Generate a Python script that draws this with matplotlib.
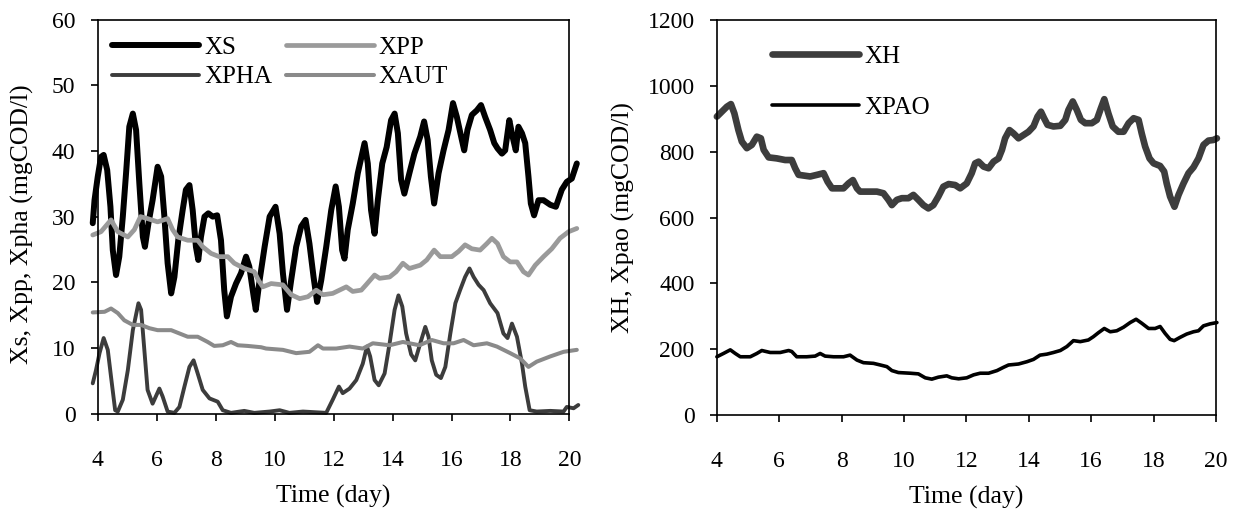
import matplotlib
matplotlib.use("Agg")
import matplotlib.pyplot as plt

plt.rcParams['font.family'] = ['Liberation Serif', 'DejaVu Serif']

# ---------------- Left panel data ----------------
xs_day = [3.83, 3.89, 4.0, 4.11, 4.2, 4.32, 4.43, 4.51, 4.62, 4.73, 4.85, 4.96, 5.07, 5.19, 5.3,
          5.41, 5.53, 5.6, 5.72, 5.86, 6.03, 6.15, 6.26, 6.37, 6.49, 6.6, 6.73, 6.88, 6.99, 7.11,
          7.22, 7.33, 7.41, 7.5, 7.62, 7.75, 7.9, 8.05, 8.18, 8.29, 8.38, 8.52, 8.69, 8.86, 9.03,
          9.14, 9.29, 9.36, 9.49, 9.66, 9.83, 10.03, 10.17, 10.28, 10.42, 10.56, 10.73, 10.9,
          11.05, 11.18, 11.32, 11.44, 11.58, 11.75, 11.92, 12.07, 12.18, 12.29, 12.37, 12.48,
          12.65, 12.82, 13.05, 13.16, 13.27, 13.39, 13.5, 13.65, 13.8, 13.95, 14.07, 14.18,
          14.29, 14.4, 14.57, 14.74, 14.94, 15.07, 15.19, 15.3, 15.41, 15.56, 15.73, 15.9,
          16.05, 16.18, 16.35, 16.43, 16.54, 16.69, 16.86, 17.0, 17.14, 17.31, 17.45, 17.56,
          17.71, 17.82, 17.96, 18.07, 18.18, 18.27, 18.39, 18.5, 18.61, 18.69, 18.8, 18.95,
          19.12, 19.35, 19.54, 19.74, 19.91, 20.08, 20.25]
xs_val = [29.0, 32.5, 36.1, 39.1, 39.4, 37.1, 31.5, 24.9, 21.1, 23.9, 30.0, 36.6, 43.7, 45.7, 43.2,
          35.1, 26.9, 25.4, 29.0, 32.5, 37.6, 36.1, 30.0, 22.9, 18.3, 20.8, 26.4, 31.0, 34.1, 34.8,
          31.0, 25.4, 23.4, 26.9, 30.0, 30.5, 30.0, 30.2, 26.4, 18.8, 14.8, 17.8, 19.8, 21.4, 23.9,
          22.4, 17.8, 15.8, 20.3, 25.4, 30.0, 31.5, 27.4, 21.4, 15.8, 20.3, 25.4, 28.5,
          29.5, 25.9, 20.8, 17.0, 20.3, 25.4, 31.0, 34.6, 31.5, 24.9, 23.6, 28.0,
          32.0, 36.6, 41.2, 38.1, 31.0, 27.4, 32.5, 38.1, 40.6, 44.7, 45.7, 42.7,
          35.6, 33.5, 36.6, 39.6, 42.2, 44.5, 41.7, 36.1, 32.0, 36.6, 40.1, 43.2,
          47.3, 45.2, 41.7, 40.1, 43.2, 45.5, 46.2, 47.0, 45.2, 43.2, 41.2, 40.4,
          39.6, 40.1, 44.7, 42.2, 40.1, 43.7, 42.7, 41.2, 36.1, 32.0, 30.2, 32.5,
          32.5, 31.8, 31.5, 34.1, 35.3, 35.8, 38.1]

xpp_day = [3.83, 4.11, 4.45, 4.68, 5.02, 5.24, 5.45, 5.69, 6.03, 6.37, 6.54, 6.71, 7.05, 7.39,
           7.56, 7.84, 8.12, 8.41, 8.63, 8.97, 9.31, 9.45, 9.6, 9.88, 10.28, 10.56, 10.85,
           11.13, 11.41, 11.64, 11.97, 12.2, 12.43, 12.65, 12.94, 13.1, 13.39, 13.56, 13.9,
           14.12, 14.35, 14.57, 14.94, 15.16, 15.41, 15.62, 16.01, 16.24, 16.46, 16.69,
           16.97, 17.2, 17.37, 17.56, 17.76, 17.99, 18.22, 18.44, 18.61, 18.84, 19.12, 19.4,
           19.68, 19.97, 20.25]
xpp_val = [27.2, 27.7, 29.5, 27.7, 26.9, 28.0, 30.0, 29.7, 29.2, 29.7, 28.0, 26.9, 26.4, 26.4,
           25.4, 24.4, 23.9, 23.9, 22.9, 22.1, 21.6, 20.3, 19.3, 19.8, 19.6, 18.1, 17.5,
           17.8, 18.8, 18.1, 18.3, 18.8, 19.3, 18.6, 18.8, 19.6, 21.1, 20.6, 20.8,
           21.6, 22.9, 22.1, 22.6, 23.4, 24.9, 23.9, 23.9, 24.7, 25.7, 25.1,
           24.9, 25.9, 26.7, 25.9, 23.9, 23.1, 23.1, 21.6, 21.1, 22.6, 23.9, 25.1,
           26.7, 27.7, 28.2]

xpha_day = [3.83, 3.94, 4.06, 4.2, 4.34, 4.45, 4.59, 4.68, 4.85, 5.02, 5.19, 5.38, 5.47, 5.58,
            5.69, 5.86, 6.09, 6.2, 6.37, 6.6, 6.77, 6.94, 7.11, 7.25, 7.39, 7.56, 7.79, 8.07,
            8.24, 8.52, 8.97, 9.31, 9.83, 10.17, 10.5, 10.96, 11.75, 11.97, 12.18, 12.31,
            12.54, 12.77, 12.99, 13.13, 13.24, 13.39, 13.53, 13.73, 13.9, 14.07, 14.2, 14.33,
            14.46, 14.63, 14.77, 14.94, 15.11, 15.22, 15.33, 15.48, 15.64, 15.79, 15.96,
            16.13, 16.29, 16.46, 16.61, 16.75, 16.92, 17.09, 17.31, 17.56, 17.76, 17.9,
            18.05, 18.22, 18.39, 18.5, 18.65, 18.89, 19.35, 19.8, 19.91, 20.14, 20.3]
xpha_val = [4.6, 6.6, 9.2, 11.5, 9.7, 5.6, 0.5, 0.3, 2.1, 6.6, 12.7, 16.8, 15.8, 9.7,
            3.6, 1.5, 3.8, 2.6, 0.3, 0.1, 1.0, 4.1, 7.1, 8.1, 6.1, 3.6, 2.3, 1.8,
            0.5, 0.1, 0.4, 0.1, 0.3, 0.5, 0.1, 0.3, 0.1, 2.1, 4.1, 3.1,
            3.8, 5.1, 7.6, 10.2, 8.7, 5.1, 4.3, 6.1, 10.7, 15.8, 18.0, 16.3,
            12.2, 9.0, 8.1, 10.7, 13.2, 11.7, 8.1, 5.9, 5.4, 7.1, 12.2,
            16.8, 18.8, 20.8, 22.1, 20.8, 19.6, 18.8, 16.8, 15.3, 12.2, 11.5,
            13.7, 11.7, 7.6, 4.1, 0.5, 0.3, 0.4, 0.3, 1.0, 0.8, 1.3]

xaut_day = [3.83, 4.23, 4.45, 4.68, 4.9, 5.19, 5.47, 5.75, 6.03, 6.49, 6.77, 7.05, 7.39, 7.73,
            7.95, 8.24, 8.52, 8.75, 9.08, 9.54, 9.71, 10.28, 10.73, 11.18, 11.47, 11.64,
            12.09, 12.54, 12.99, 13.33, 13.9, 14.35, 14.91, 15.33, 15.73, 16.07, 16.41,
            16.75, 17.2, 17.54, 17.99, 18.33, 18.61, 18.89, 19.35, 19.8, 20.25]
xaut_val = [15.4, 15.5, 16.0, 15.3, 14.2, 13.5, 13.5, 13.0, 12.7, 12.7, 12.2, 11.7, 11.7, 10.9,
            10.3, 10.4, 10.9, 10.4, 10.3, 10.1, 9.9, 9.7, 9.2, 9.4, 10.4, 9.9,
            9.9, 10.2, 9.9, 10.7, 10.4, 10.9, 10.4, 11.2, 10.7, 10.7, 11.2,
            10.4, 10.7, 10.2, 9.2, 8.4, 7.1, 7.9, 8.7, 9.4, 9.7]

# ---------------- Right panel data ----------------
xh_day = [4.0, 4.16, 4.32, 4.45, 4.56, 4.69, 4.8, 4.96, 5.12, 5.28, 5.41, 5.5, 5.66, 5.92, 6.19,
          6.4, 6.51, 6.62, 6.99, 7.21, 7.42, 7.55, 7.69, 8.06, 8.22, 8.36, 8.49, 8.59, 8.91,
          9.13, 9.34, 9.5, 9.61, 9.77, 9.93, 10.14, 10.3, 10.46, 10.62, 10.78, 10.94, 11.1,
          11.26, 11.43, 11.64, 11.8, 12.01, 12.17, 12.28, 12.39, 12.55, 12.71, 12.87, 13.03,
          13.14, 13.24, 13.38, 13.51, 13.67, 13.83, 13.99, 14.15, 14.28, 14.39, 14.49, 14.6,
          14.79, 15.01, 15.17, 15.27, 15.41, 15.54, 15.67, 15.81, 16.02, 16.18, 16.31, 16.42,
          16.55, 16.69, 16.87, 17.04, 17.2, 17.36, 17.52, 17.62, 17.73, 17.87, 18.0, 18.21,
          18.34, 18.42, 18.53, 18.67, 18.8, 18.96, 19.12, 19.28, 19.44, 19.6, 19.76, 19.92,
          20.03]
xh_val = [907, 922, 937, 945, 917, 866, 831, 811, 821, 846, 841, 806, 783, 780, 775,
          775, 750, 730, 725, 730, 735, 709, 689, 689, 704, 714, 689, 679, 679,
          679, 674, 654, 638, 654, 659, 659, 669, 654, 638, 628, 638, 664,
          694, 702, 699, 689, 704, 735, 765, 770, 755, 750, 770, 780,
          806, 841, 866, 856, 841, 851, 861, 877, 907, 922, 902, 882,
          877, 879, 897, 927, 953, 927, 897, 887, 887, 897, 932, 960,
          917, 877, 861, 861, 887, 902, 897, 856, 816, 780, 765, 757,
          740, 704, 664, 633, 669, 704, 735, 753, 780, 821, 834, 836,
          841]

xpao_day = [4.0, 4.21, 4.43, 4.59, 4.75, 5.07, 5.28, 5.44, 5.71, 6.03, 6.3, 6.4, 6.56, 6.88,
            7.15, 7.31, 7.47, 7.74, 8.06, 8.27, 8.49, 8.7, 9.02, 9.24, 9.45, 9.61, 9.82,
            10.2, 10.46, 10.68, 10.89, 11.1, 11.37, 11.53, 11.75, 12.01, 12.23, 12.44,
            12.71, 12.98, 13.19, 13.35, 13.67, 13.94, 14.15, 14.36, 14.58, 14.79, 15.01,
            15.22, 15.43, 15.65, 15.91, 16.07, 16.23, 16.42, 16.61, 16.82, 17.04, 17.25,
            17.44, 17.62, 17.84, 18.05, 18.21, 18.37, 18.53, 18.66, 18.85, 19.06, 19.28,
            19.44, 19.6, 19.81, 20.03]
xpao_val = [177, 187, 198, 187, 177, 177, 187, 196, 190, 190, 196, 193, 177, 177,
            179, 187, 179, 177, 177, 182, 167, 159, 157, 152, 147, 135, 129,
            127, 125, 113, 109, 115, 119, 113, 110, 113, 122, 127,
            127, 135, 145, 152, 155, 162, 169, 182, 185, 190, 196,
            208, 226, 223, 228, 238, 250, 263, 253, 256, 267, 281,
            291, 279, 263, 263, 269, 248, 230, 226, 236, 246, 253,
            256, 271, 277, 281]

x_ticks = [4, 6, 8, 10, 12, 14, 16, 18, 20]
left_yticks = [0, 10, 20, 30, 40, 50, 60]
right_yticks = [0, 200, 400, 600, 800, 1000, 1200]

TICK_FS = 17
LABEL_FS = 18.5
LEG_FS = 18

fig = plt.figure(figsize=(12.39, 5.14), dpi=100)
ax1 = fig.add_axes([0.0789, 0.1955, 0.3807, 0.7661])
ax2 = fig.add_axes([0.5786, 0.1926, 0.4028, 0.7681])


def style(ax, yticks, ylim):
    ax.set_xlim(4, 20)
    ax.set_ylim(*ylim)
    ax.set_xticks(x_ticks)
    ax.set_yticks(yticks)
    for s in ax.spines.values():
        s.set_linewidth(1.2)
        s.set_color('black')
    ax.tick_params(axis='both', direction='out', length=5, width=1.2,
                   labelsize=TICK_FS, colors='black', top=False, right=False)
    ax.tick_params(axis='x', pad=21)
    ax.tick_params(axis='y', pad=11)


common = dict(solid_joinstyle='round', solid_capstyle='round', clip_on=False)
l_xs, = ax1.plot(xs_day, xs_val, color='#000000', lw=4.3, label='XS', **common)
l_xpp, = ax1.plot(xpp_day, xpp_val, color='#9a9a9a', lw=3.4, label='XPP', **common)
l_xpha, = ax1.plot(xpha_day, xpha_val, color='#3c3c3c', lw=2.8, label='XPHA', **common)
l_xaut, = ax1.plot(xaut_day, xaut_val, color='#8a8a8a', lw=2.9, label='XAUT', **common)

style(ax1, left_yticks, (0, 60))
ax1.set_xlabel('Time (day)', fontsize=LABEL_FS, labelpad=10)
ax1.set_ylabel('Xs, Xpp, Xpha (mgCOD/l)', fontsize=LABEL_FS)
ax1.yaxis.set_label_coords(-0.135, 0.48)
ax1.legend(handles=[l_xs, l_xpha, l_xpp, l_xaut], ncol=2, loc='upper left',
           bbox_to_anchor=(0.03, 0.958), frameon=False, fontsize=LEG_FS,
           handlelength=3.5, handletextpad=0.2, columnspacing=0.55,
           labelspacing=0.28, borderpad=0, borderaxespad=0)

l_xh, = ax2.plot(xh_day, xh_val, color='#3d3d3d', lw=4.8, label='XH', **common)
l_xpao, = ax2.plot(xpao_day, xpao_val, color='#000000', lw=2.6, label='XPAO', **common)
style(ax2, right_yticks, (0, 1200))
ax2.set_xlabel('Time (day)', fontsize=LABEL_FS, labelpad=10)
ax2.set_ylabel('XH, Xpao (mgCOD/l)', fontsize=LABEL_FS)
ax2.yaxis.set_label_coords(-0.165, 0.5)
ax2.legend(handles=[l_xh, l_xpao], loc='upper left', bbox_to_anchor=(0.11, 0.937),
           frameon=False, fontsize=LEG_FS, handlelength=3.5, handletextpad=0.2,
           labelspacing=1.15, borderpad=0, borderaxespad=0)

fig.savefig('out.png', dpi=100)
